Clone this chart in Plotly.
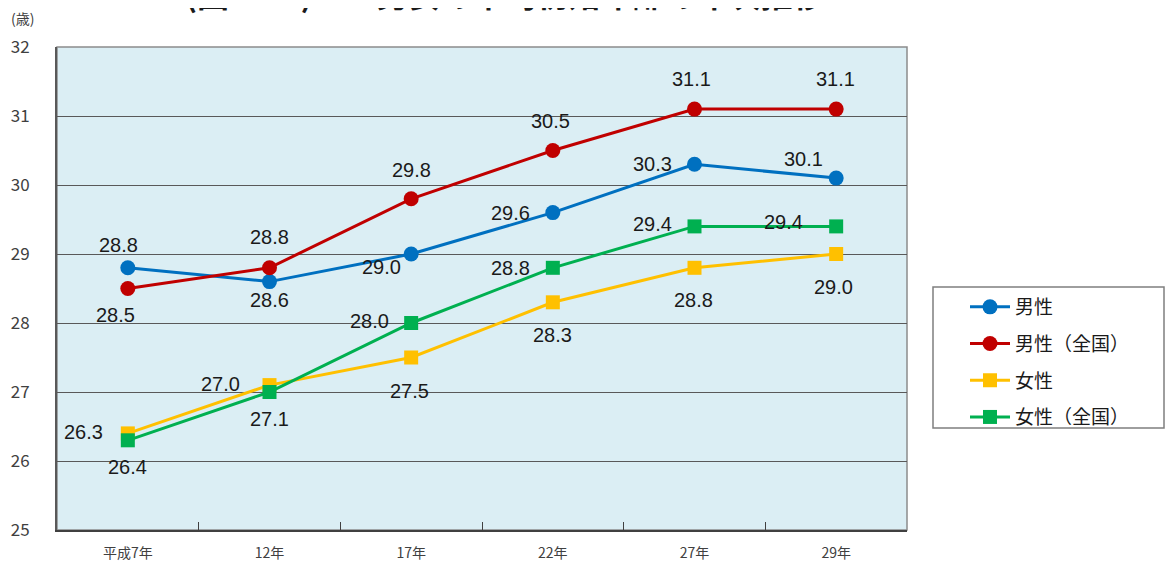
import plotly.graph_objects as go

categories = ["平成7年", "12年", "17年", "22年", "27年", "29年"]
male = [28.8, 28.6, 29.0, 29.6, 30.3, 30.1]
male_nat = [28.5, 28.8, 29.8, 30.5, 31.1, 31.1]
female = [26.4, 27.1, 27.5, 28.3, 28.8, 29.0]
female_nat = [26.3, 27.0, 28.0, 28.8, 29.4, 29.4]
y_ticks = [25, 26, 27, 28, 29, 30, 31, 32]

series = [
    ("男性", male, "#0070C0", "circle"),
    ("男性（全国）", male_nat, "#C00000", "circle"),
    ("女性", female, "#FFC000", "square"),
    ("女性（全国）", female_nat, "#00B050", "square"),
]

# label offsets (pixels) per series / point
offsets = {
    "男性": [(-9, -23), (0, 18), (-30, 13), (-42, 0), (-42, 0), (-33, -19)],
    "男性（全国）": [(-12, 26), (0, -31), (0, -29), (-2, -30), (-3, -30), (-1, -30)],
    "女性": [(0, 34), (0, 34), (-2, 33), (0, 33), (-1, 32), (-3, 33)],
    "女性（全国）": [(-44, -8), (-49, -8), (-42, -2), (-42, 0), (-42, -2), (-53, -4)],
}

# page offset of the plot div (browser default body margin)
PAGE = 8
PW, PH = 850, 483          # plot area size in px
PX0, PY0 = 57, 47          # plot area top-left on the page


def px(x):
    return (x - PX0) / PW


def py(y):
    return 1 - (y - PY0) / PH


fig = go.Figure()
annotations = []
for k, (name, vals, color, sym) in enumerate(series):
    fig.add_trace(go.Scatter(
        x=categories, y=vals, name=name, mode="lines+markers",
        legendgroup=f"g{k}",
        line=dict(color=color, width=3),
        marker=dict(symbol=sym, size=15 if sym == "circle" else 14, color=color),
    ))
    for i, (c, v) in enumerate(zip(categories, vals)):
        dx, dy = offsets[name][i]
        annotations.append(dict(
            x=c, y=v, xref="x", yref="y", text=f"{v:.1f}", showarrow=False,
            xshift=dx, yshift=-dy,
            font=dict(family="Liberation Sans, Arial", size=20, color="#1a1a1a"),
        ))

annotations.append(dict(
    x=px(9), y=py(18), xref="paper", yref="paper", xanchor="left", yanchor="middle",
    text="(歳)", showarrow=False,
    font=dict(family="Noto Sans CJK JP", size=14, color="#404040"),
))
annotations.append(dict(
    x=px(505), y=py(-7.5), xref="paper", yref="paper",
    xanchor="center", yanchor="middle",
    text="(図 2 - 3)　　男女の平均初婚年齢の年次推移", showarrow=False,
    font=dict(family="Noto Sans CJK JP", size=32, color="#1a1a1a", weight=700),
))

fig.update_layout(
    width=1174, height=565,
    margin=dict(l=PX0 - PAGE, r=1174 - (PX0 + PW - PAGE), t=PY0 - PAGE,
                b=565 - (PY0 + PH - PAGE), autoexpand=False),
    paper_bgcolor="white",
    plot_bgcolor="#DBEEF4",
    showlegend=True,
    legend=dict(
        x=px(965), y=py(288), xanchor="left", yanchor="top",
        borderwidth=0, bgcolor="rgba(0,0,0,0)",
        font=dict(family="Noto Sans CJK JP", size=19, color="#1a1a1a"),
        itemwidth=40, tracegroupgap=9,
    ),
    annotations=annotations,
)

fig.update_xaxes(
    type="category", range=[-0.5, 5.5], automargin=False,
    showgrid=False, showline=True, linecolor="#404040", linewidth=2,
    ticks="inside", tickson="boundaries", ticklen=8, tickcolor="#404040",
    ticklabelstandoff=9,
    tickfont=dict(family="Noto Sans CJK JP", size=14, color="#404040"),
    mirror=False, zeroline=False,
)
fig.update_yaxes(
    range=[25, 32], tickvals=y_ticks, ticktext=[str(t) for t in y_ticks],
    automargin=False,
    showgrid=True, gridcolor="#595959", gridwidth=1,
    showline=True, linecolor="#595959", linewidth=2,
    ticks="", ticklabelstandoff=22,
    tickfont=dict(family="Liberation Sans Narrow, Noto Sans CJK JP", size=17, color="#404040"),
    zeroline=False,
)
# right and top frame
fig.add_shape(type="rect", xref="paper", yref="paper", x0=0, y0=0, x1=1, y1=1,
              line=dict(color="#8c8c8c", width=1.5), layer="below")
# legend frame
fig.add_shape(type="rect", xref="paper", yref="paper",
              x0=px(933), x1=px(1164), y0=py(428), y1=py(287),
              line=dict(color="#7f7f7f", width=1.5), fillcolor="white", layer="below")

fig.write_html("out.html")
